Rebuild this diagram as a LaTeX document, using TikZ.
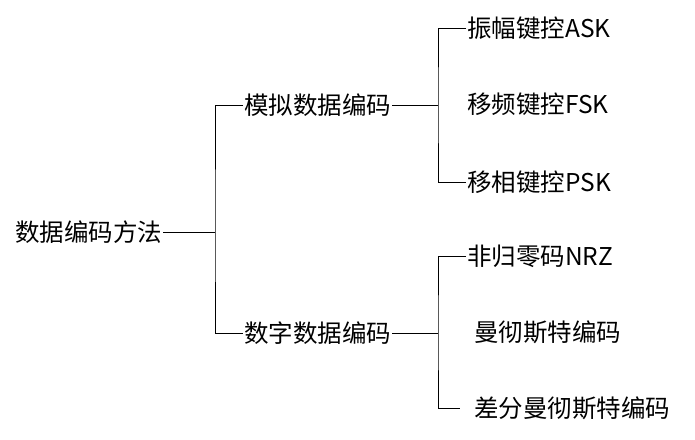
\documentclass[tikz,border=0pt]{standalone}
\usepackage{fontspec}
\newfontfamily\cjk{Noto Sans CJK SC}
\usetikzlibrary{positioning}
\tikzset{
  lbl/.style={anchor=west, inner sep=1pt, font=\cjk\fontsize{24.5}{28}\selectfont},
  br/.style={black, line width=0.8pt}
}
\begin{document}
\begin{tikzpicture}[x=1pt,y=-1pt]
        \useasboundingbox (0,0) rectangle (695,439);
        % root and middle level
        \node[lbl] (root) at (14,232) {数据编码方法};
        \node[lbl] (ana) at (243,105) {模拟数据编码};
        \node[lbl] (dig) at (243,333) {数字数据编码};
        % leaves
        \node[lbl] (ask) at (466,28) {振幅键控ASK};
        \node[lbl] (fsk) at (466,104) {移频键控FSK};
        \node[lbl] (psk) at (466,182) {移相键控PSK};
        \node[lbl] (nrz) at (466,256) {非归零码NRZ};
        \node[lbl] (man) at (473,332) {曼彻斯特编码};
        \node[lbl] (dman) at (473,408) {差分曼彻斯特编码};
        % branch points and leaf ends
        \coordinate (j0) at (215,232);
        \coordinate (j1) at (438,105);
        \coordinate (j2) at (438,333);
        \coordinate (edman) at (460,408);
        \draw[br] (root.east) -- (j0);
        \draw[br] (ana.west) -| (j0) |- (dig.west);
        \draw[br] (ana.east) -- (j1);
        \draw[br] (ask.west) -| (j1) |- (psk.west);
        \draw[br] (dig.east) -- (j2);
        \draw[br] (nrz.west) -| (j2) |- (edman);
\end{tikzpicture}
\end{document}
